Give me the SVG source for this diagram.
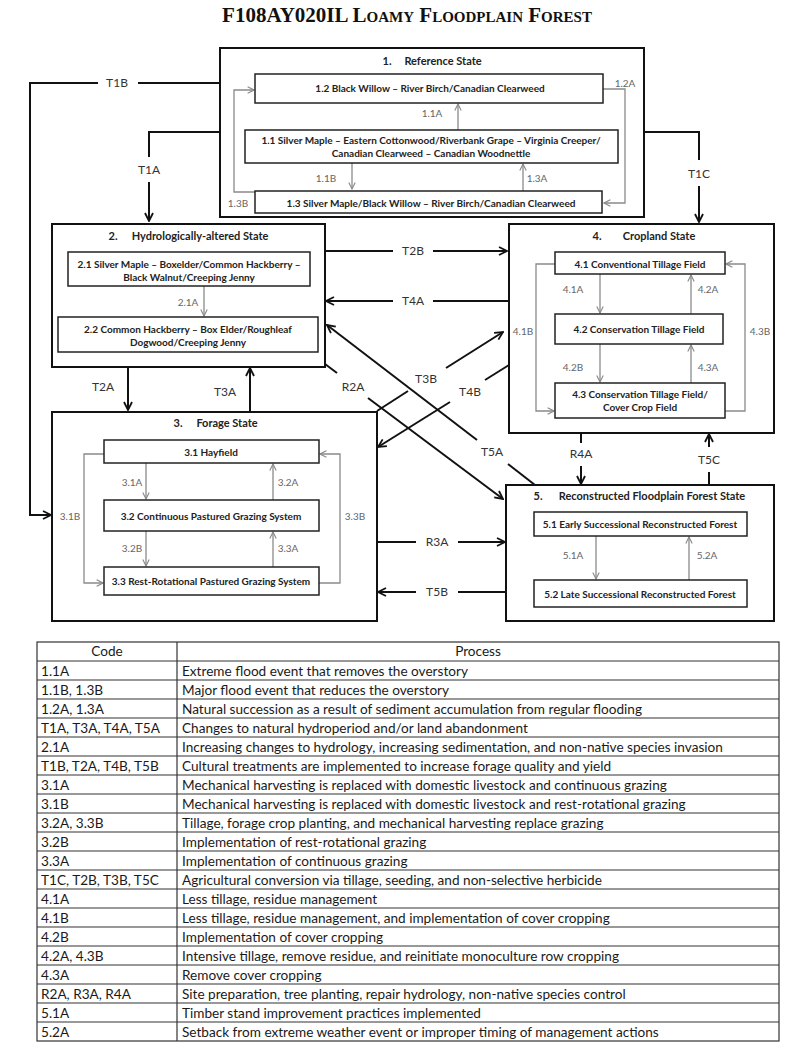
<svg xmlns="http://www.w3.org/2000/svg" width="800" height="1050" viewBox="0 0 800 1050">
<style>
.ob{fill:#fff;stroke:#111;stroke-width:2}
.ib{fill:#fff;stroke:#222;stroke-width:1.5}
.st{font-family:Lato,"Open Sans",sans-serif;font-weight:bold;font-size:11px;fill:#222;text-anchor:middle}
.bx{font-family:Lato,"Open Sans",sans-serif;font-weight:bold;font-size:10px;fill:#222;text-anchor:middle}
.ol{font-family:Lato,"Open Sans",sans-serif;font-size:12px;fill:#333;text-anchor:middle}
.il{font-family:Lato,"Open Sans",sans-serif;font-size:10px;fill:#666;text-anchor:middle}
.tb{font-family:Lato,"Open Sans",sans-serif;font-size:13.6px;fill:#1a1a1a}
.oc{fill:none;stroke:#111;stroke-width:2}
.ic{fill:none;stroke:#8a8a8a;stroke-width:1.3}
.tl{stroke:#333;stroke-width:1.2;fill:none}
</style>
<defs>
<marker id="ab" viewBox="0 0 10 10" refX="9" refY="5" markerWidth="10" markerHeight="10" orient="auto" markerUnits="userSpaceOnUse">
<path d="M1,1 L9,5 L1,9" fill="none" stroke="#111" stroke-width="1.8"/>
</marker>
<marker id="ag" viewBox="0 0 10 10" refX="9" refY="5" markerWidth="8" markerHeight="8" orient="auto" markerUnits="userSpaceOnUse">
<path d="M1,1 L9,5 L1,9" fill="none" stroke="#8a8a8a" stroke-width="1.4"/>
</marker>
</defs>
<rect width="800" height="1050" fill="#fff"/>
<text x="407" y="22" font-family="'Liberation Serif','Times New Roman',serif" font-weight="bold" font-size="21" font-variant="small-caps" text-anchor="middle" fill="#111">F108AY020IL Loamy Floodplain Forest</text>

<g id="connectors">
<!-- T1B -->
<path class="oc" d="M220,83 H138"/>
<path class="oc" d="M98,83 H30 V515 H51" marker-end="url(#ab)"/>
<!-- T1A -->
<path class="oc" d="M220,132 H149 V157"/>
<path class="oc" d="M149,182 V221" marker-end="url(#ab)"/>
<!-- T1C -->
<path class="oc" d="M644,132 H699 V160"/>
<path class="oc" d="M699,186 V222" marker-end="url(#ab)"/>
<!-- T2B -->
<path class="oc" d="M325,251 H393"/>
<path class="oc" d="M433,251 H507" marker-end="url(#ab)"/>
<!-- T4A -->
<path class="oc" d="M509,301 H433"/>
<path class="oc" d="M393,301 H326" marker-end="url(#ab)"/>
<!-- T2A -->
<path class="oc" d="M128,367 V410" marker-end="url(#ab)"/>
<!-- T3A -->
<path class="oc" d="M250,411 V368" marker-end="url(#ab)"/>
<!-- R2A -->
<path class="oc" d="M325,364 L337,373"/>
<path class="oc" d="M368,398 L503,499" marker-end="url(#ab)"/>
<!-- T5A -->
<path class="oc" d="M535,485 L508,464"/>
<path class="oc" d="M477,440 L327,325" marker-end="url(#ab)"/>
<!-- T3B -->
<path class="oc" d="M377,411 L408,391"/>
<path class="oc" d="M446,368 L503,332" marker-end="url(#ab)"/>
<!-- T4B -->
<path class="oc" d="M509,365 L485,380"/>
<path class="oc" d="M450,402 L378,447" marker-end="url(#ab)"/>
<!-- R4A -->
<path class="oc" d="M581,433 V443"/>
<path class="oc" d="M581,466 V484" marker-end="url(#ab)"/>
<!-- T5C -->
<path class="oc" d="M709,485 V472"/>
<path class="oc" d="M709,447 V434" marker-end="url(#ab)"/>
<!-- R3A -->
<path class="oc" d="M377,542 H416"/>
<path class="oc" d="M458,542 H505" marker-end="url(#ab)"/>
<!-- T5B -->
<path class="oc" d="M506,592 H458"/>
<path class="oc" d="M416,592 H378" marker-end="url(#ab)"/>
</g>

<g id="state1">
<rect class="ob" x="220" y="48" width="424" height="169"/>
<text class="st" y="65"><tspan x="387">1.</tspan><tspan x="443">Reference State</tspan></text>
<g class="ic">
<path d="M458,130 V104" marker-end="url(#ag)"/>
<path d="M352,163 V189" marker-end="url(#ag)"/>
<path d="M523,191 V164" marker-end="url(#ag)"/>
<path d="M603,89 H625 V203 H604" marker-end="url(#ag)"/>
<path d="M255,192 H234 V90 H254" marker-end="url(#ag)"/>
</g>
<text class="il" x="432" y="117">1.1A</text>
<text class="il" x="326" y="182">1.1B</text>
<text class="il" x="537" y="182">1.3A</text>
<text class="il" x="625" y="87">1.2A</text>
<text class="il" x="238" y="207">1.3B</text>
</g>
<g id="s12">
<rect class="ib" x="255" y="74" width="348" height="29"/>
<text class="bx" x="430" y="92">1.2 Black Willow – River Birch/Canadian Clearweed</text>
</g>
<g id="s11">
<rect class="ib" x="245" y="130" width="373" height="33"/>
<text class="bx" x="431" y="144">1.1 Silver Maple – Eastern Cottonwood/Riverbank Grape – Virginia Creeper/</text>
<text class="bx" x="431" y="157">Canadian Clearweed – Canadian Woodnettle</text>
</g>
<g id="s13">
<rect class="ib" x="255" y="191" width="347" height="22"/>
<text class="bx" x="431" y="207">1.3  Silver Maple/Black Willow – River Birch/Canadian Clearweed</text>
</g>

<g id="state2">
<rect class="ob" x="52" y="224" width="273" height="143"/>
<text class="st" y="240"><tspan x="113">2.</tspan><tspan x="200">Hydrologically-altered State</tspan></text>
<path class="ic" d="M204,286 V316" marker-end="url(#ag)"/>
<text class="il" x="188" y="306">2.1A</text>
</g>
<g id="s21">
<rect class="ib" x="68" y="252" width="242" height="34"/>
<text class="bx" x="189" y="268">2.1  Silver Maple – Boxelder/Common Hackberry –</text>
<text class="bx" x="189" y="281">Black Walnut/Creeping Jenny</text>
</g>
<g id="s22">
<rect class="ib" x="58" y="317" width="260" height="35"/>
<text class="bx" x="188" y="333">2.2  Common Hackberry – Box Elder/Roughleaf</text>
<text class="bx" x="188" y="346">Dogwood/Creeping Jenny</text>
</g>

<g id="state4">
<rect class="ob" x="509" y="224" width="265" height="209"/>
<text class="st" y="240"><tspan x="597">4.</tspan><tspan x="659">Cropland State</tspan></text>
<g class="ic">
<path d="M600,274 V313" marker-end="url(#ag)"/>
<path d="M691,314 V275" marker-end="url(#ag)"/>
<path d="M600,344 V382" marker-end="url(#ag)"/>
<path d="M691,383 V345" marker-end="url(#ag)"/>
<path d="M555,264 H536 V411 H554" marker-end="url(#ag)"/>
<path d="M725,411 H745 V264 H726" marker-end="url(#ag)"/>
</g>
<text class="il" x="573" y="293">4.1A</text>
<text class="il" x="708" y="293">4.2A</text>
<text class="il" x="573" y="371">4.2B</text>
<text class="il" x="708" y="371">4.3A</text>
<text class="il" x="523" y="335">4.1B</text>
<text class="il" x="760" y="335">4.3B</text>
</g>
<g id="s41">
<rect class="ib" x="555" y="252" width="170" height="22"/>
<text class="bx" x="640" y="268">4.1 Conventional Tillage Field</text>
</g>
<g id="s42">
<rect class="ib" x="555" y="314" width="168" height="30"/>
<text class="bx" x="639" y="333">4.2 Conservation Tillage Field</text>
</g>
<g id="s43">
<rect class="ib" x="555" y="383" width="170" height="35"/>
<text class="bx" x="640" y="398">4.3 Conservation Tillage Field/</text>
<text class="bx" x="640" y="411">Cover Crop Field</text>
</g>

<g id="state3">
<rect class="ob" x="52" y="412" width="325" height="209"/>
<text class="st" y="427"><tspan x="178">3.</tspan><tspan x="227">Forage State</tspan></text>
<g class="ic">
<path d="M146,463 V499" marker-end="url(#ag)"/>
<path d="M273,500 V464" marker-end="url(#ag)"/>
<path d="M146,531 V566" marker-end="url(#ag)"/>
<path d="M273,567 V532" marker-end="url(#ag)"/>
<path d="M104,454 H84 V583 H103" marker-end="url(#ag)"/>
<path d="M319,583 H340 V454 H320" marker-end="url(#ag)"/>
</g>
<text class="il" x="132" y="486">3.1A</text>
<text class="il" x="288" y="486">3.2A</text>
<text class="il" x="132" y="552">3.2B</text>
<text class="il" x="288" y="552">3.3A</text>
<text class="il" x="70" y="520">3.1B</text>
<text class="il" x="355" y="520">3.3B</text>
</g>
<g id="s31">
<rect class="ib" x="104" y="440" width="215" height="23"/>
<text class="bx" x="211" y="456">3.1 Hayfield</text>
</g>
<g id="s32">
<rect class="ib" x="104" y="500" width="215" height="31"/>
<text class="bx" x="211" y="520">3.2 Continuous Pastured Grazing System</text>
</g>
<g id="s33">
<rect class="ib" x="104" y="567" width="215" height="28"/>
<text class="bx" x="211" y="585">3.3 Rest-Rotational Pastured Grazing System</text>
</g>

<g id="state5">
<rect class="ob" x="506" y="485" width="268" height="136"/>
<text class="st" y="500"><tspan x="538">5.</tspan><tspan x="652">Reconstructed Floodplain  Forest State</tspan></text>
<g class="ic">
<path d="M596,536 V579" marker-end="url(#ag)"/>
<path d="M689,580 V537" marker-end="url(#ag)"/>
</g>
<text class="il" x="573" y="559">5.1A</text>
<text class="il" x="707" y="559">5.2A</text>
</g>
<g id="s51">
<rect class="ib" x="534" y="512" width="213" height="24"/>
<text class="bx" x="640" y="528">5.1 Early Successional Reconstructed Forest</text>
</g>
<g id="s52">
<rect class="ib" x="534" y="580" width="213" height="27"/>
<text class="bx" x="640" y="598">5.2 Late Successional Reconstructed Forest</text>
</g>

<g id="labels">
<text class="ol" x="117" y="87">T1B</text>
<text class="ol" x="149" y="174">T1A</text>
<text class="ol" x="699" y="178">T1C</text>
<text class="ol" x="413" y="255">T2B</text>
<text class="ol" x="413" y="305">T4A</text>
<text class="ol" x="103" y="391">T2A</text>
<text class="ol" x="225" y="396">T3A</text>
<text class="ol" x="353" y="391">R2A</text>
<text class="ol" x="426" y="383">T3B</text>
<text class="ol" x="470" y="396">T4B</text>
<text class="ol" x="492" y="456">T5A</text>
<text class="ol" x="581" y="458">R4A</text>
<text class="ol" x="709" y="464">T5C</text>
<text class="ol" x="437" y="546">R3A</text>
<text class="ol" x="437" y="596">T5B</text>
</g>

<g id="table">
<rect class="tl" x="37" y="642" width="742" height="399"/>
<path class="tl" d="M177,642 V1041"/>
<path class="tl" d="M37,661 H779 M37,680 H779 M37,699 H779 M37,718 H779 M37,737 H779 M37,756 H779 M37,775 H779 M37,794 H779 M37,813 H779 M37,832 H779 M37,851 H779 M37,870 H779 M37,889 H779 M37,908 H779 M37,927 H779 M37,946 H779 M37,965 H779 M37,984 H779 M37,1003 H779 M37,1022 H779"/>
<text class="tb" x="107" y="656" text-anchor="middle">Code</text>
<text class="tb" x="478" y="656" text-anchor="middle">Process</text>
<g class="tb">
<text x="41" y="675.5">1.1A</text><text x="182" y="675.5">Extreme flood event that removes the overstory</text>
<text x="41" y="694.5">1.1B, 1.3B</text><text x="182" y="694.5">Major flood event that reduces the overstory</text>
<text x="41" y="713.5">1.2A, 1.3A</text><text x="182" y="713.5">Natural succession as a result of sediment accumulation from regular flooding</text>
<text x="41" y="732.5">T1A, T3A, T4A, T5A</text><text x="182" y="732.5">Changes to natural hydroperiod and/or land abandonment</text>
<text x="41" y="751.5">2.1A</text><text x="182" y="751.5">Increasing changes to hydrology, increasing sedimentation, and non-native species invasion</text>
<text x="41" y="770.5">T1B, T2A, T4B, T5B</text><text x="182" y="770.5">Cultural treatments are implemented to increase forage quality and yield</text>
<text x="41" y="789.5">3.1A</text><text x="182" y="789.5">Mechanical harvesting is replaced with domestic livestock and continuous grazing</text>
<text x="41" y="808.5">3.1B</text><text x="182" y="808.5">Mechanical harvesting is replaced with domestic livestock and rest-rotational grazing</text>
<text x="41" y="827.5">3.2A, 3.3B</text><text x="182" y="827.5">Tillage, forage crop planting, and mechanical harvesting replace grazing</text>
<text x="41" y="846.5">3.2B</text><text x="182" y="846.5">Implementation of rest-rotational grazing</text>
<text x="41" y="865.5">3.3A</text><text x="182" y="865.5">Implementation of continuous grazing</text>
<text x="41" y="884.5">T1C, T2B, T3B, T5C</text><text x="182" y="884.5">Agricultural conversion via tillage, seeding, and non-selective herbicide</text>
<text x="41" y="903.5">4.1A</text><text x="182" y="903.5">Less tillage, residue management</text>
<text x="41" y="922.5">4.1B</text><text x="182" y="922.5">Less tillage, residue management, and implementation of cover cropping</text>
<text x="41" y="941.5">4.2B</text><text x="182" y="941.5">Implementation of cover cropping</text>
<text x="41" y="960.5">4.2A, 4.3B</text><text x="182" y="960.5">Intensive tillage, remove residue, and reinitiate monoculture row cropping</text>
<text x="41" y="979.5">4.3A</text><text x="182" y="979.5">Remove cover cropping</text>
<text x="41" y="998.5">R2A, R3A, R4A</text><text x="182" y="998.5">Site preparation, tree planting, repair hydrology, non-native species control</text>
<text x="41" y="1017.5">5.1A</text><text x="182" y="1017.5">Timber stand improvement practices implemented</text>
<text x="41" y="1036.5">5.2A</text><text x="182" y="1036.5">Setback from extreme weather event or improper timing of management actions</text>
</g>
</g>
</svg>
